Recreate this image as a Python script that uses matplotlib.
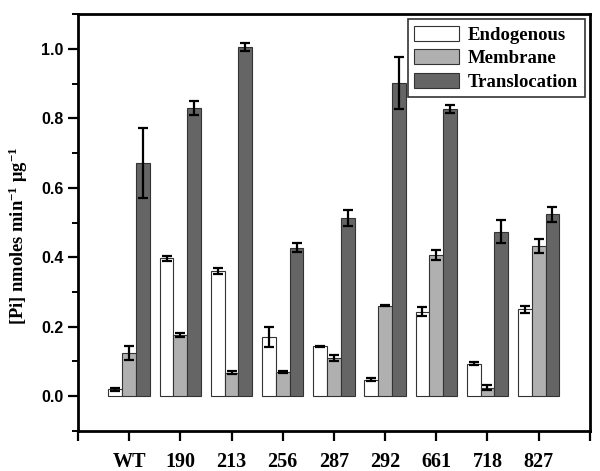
import numpy as np
import matplotlib.pyplot as plt
from matplotlib.ticker import MultipleLocator

plt.rcParams['mathtext.fontset'] = 'custom'
plt.rcParams['mathtext.rm'] = 'Liberation Serif:bold'
plt.rcParams['mathtext.bf'] = 'Liberation Serif:bold'
plt.rcParams['mathtext.it'] = 'Liberation Serif:bold'
plt.rcParams['mathtext.default'] = 'bf'

# data
strains = ['WT', '190', '213', '256', '287', '292', '661', '718', '827']
endogenous = [0.020, 0.397, 0.360, 0.170, 0.144, 0.048, 0.243, 0.094, 0.250]
endogenous_err = [0.004, 0.008, 0.008, 0.028, 0.002, 0.004, 0.013, 0.005, 0.010]
membrane = [0.124, 0.177, 0.068, 0.070, 0.111, 0.261, 0.406, 0.025, 0.432]
membrane_err = [0.020, 0.006, 0.004, 0.002, 0.009, 0.002, 0.015, 0.008, 0.021]
translocation = [0.672, 0.830, 1.005, 0.428, 0.513, 0.903, 0.826, 0.474, 0.524]
translocation_err = [0.100, 0.020, 0.011, 0.012, 0.022, 0.075, 0.012, 0.032, 0.021]

series = [('Endogenous', endogenous, endogenous_err, 'white'),
          ('Membrane', membrane, membrane_err, '#b0b0b0'),
          ('Translocation', translocation, translocation_err, '#656565')]

fig = plt.figure(figsize=(6, 4.71), dpi=100)
ax = fig.add_axes([0.13, 0.085, 0.853, 0.885])

x = np.arange(1, len(strains) + 1)
w = 0.27
for i, (name, vals, errs, col) in enumerate(series):
    ax.bar(x + (i - 1) * w, vals, w, color=col, edgecolor='#333333', linewidth=0.8,
           yerr=errs, capsize=3.5, error_kw=dict(elinewidth=1.6, capthick=1.6, ecolor='black'),
           label=name)

ax.set_xlim(0, 10)
ax.set_ylim(-0.1, 1.1)
ax.set_xticks(range(0, 11))
ax.set_xticklabels([''] + strains + [''], fontfamily='Liberation Serif', fontweight='bold', fontsize=14.5)
ax.yaxis.set_major_locator(MultipleLocator(0.2))
ax.yaxis.set_minor_locator(MultipleLocator(0.1))
ax.set_yticks([0.0, 0.2, 0.4, 0.6, 0.8, 1.0])
for lab in ax.get_yticklabels():
    lab.set_fontfamily('Liberation Sans')
    lab.set_fontweight('bold')
    lab.set_fontsize(11.5)
ax.tick_params(axis='both', which='major', direction='out', length=7, width=1.6)
ax.tick_params(axis='y', which='minor', direction='out', length=4, width=1.4)
ax.tick_params(axis='x', which='major', pad=8)
for s in ax.spines.values():
    s.set_linewidth(2)

ax.set_ylabel(r'[Pi] nmoles min$^{-1}$ $\mu$g$^{-1}$',
              fontfamily='Liberation Serif', fontweight='bold', fontsize=13.3)
ax.yaxis.set_label_coords(-0.094, 0.468)

leg = ax.legend(loc='upper right', bbox_to_anchor=(0.997, 0.997), fancybox=False,
                edgecolor='#333333', framealpha=1, handlelength=2.4, handleheight=0.85,
                handletextpad=0.45, borderpad=0.35, labelspacing=0.3, borderaxespad=0.2,
                prop=dict(family='Liberation Serif', weight='bold', size=13.5))
leg.get_frame().set_linewidth(1.2)

fig.savefig('out.png', dpi=100)
